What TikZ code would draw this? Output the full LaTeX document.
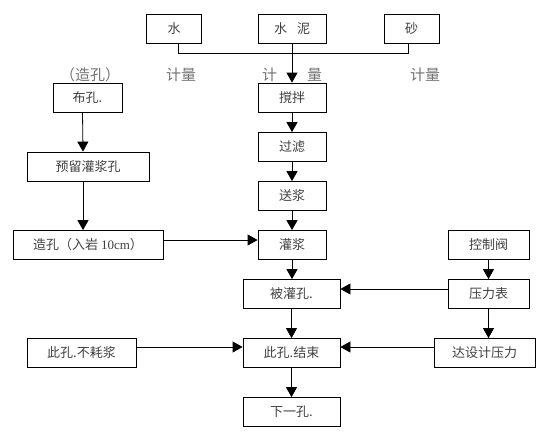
\documentclass[tikz,border=0pt]{standalone}
\usepackage{fontspec}
\setmainfont{Liberation Serif}
\newfontfamily\cjk{Noto Sans CJK SC}
\usetikzlibrary{
  arrows.meta, % for arrow tips
  positioning}
\tikzset{
  proc box/.style={
    shape=rectangle, draw, line width=.8pt, minimum height=29pt,
    inner sep=0pt, text=black!75,
    font=\cjk\fontsize{13}{13}\selectfont},
  meter label/.style={
    text=black!55, inner sep=0pt,
    font=\cjk\fontsize{15}{15}\selectfont},
  flow/.style={line width=.8pt, -{Triangle[length=10pt,width=11pt]}}
}

\begin{document}
\begin{tikzpicture}[x=1pt, y=-1pt, line width=.8pt]
\useasboundingbox (0,0) rectangle (554,432);

% materials
\node[proc box, minimum width=55pt] (water)  at (174,29)   {水};
\node[proc box, minimum width=68pt] (cement) at (292,29)   {水\hspace{10pt}泥};
\node[proc box, minimum width=55pt] (sand)   at (411.5,29) {砂};

\node[meter label] (water-m)  at (181,75)   {计量};
\node[meter label] (cement-m) at (292,75)   {计\hspace{30pt}量};
\node[meter label] (sand-m)   at (425,75)   {计量};
\node[meter label] (hole-m)   at (90,75)    {（造孔）};

% hole branch
\node[proc box, minimum width=69pt]  (lay)     at (87.5,97.5) {布孔.};
\node[proc box, minimum width=122pt] (reserve) at (88,166.5)  {预留灌浆孔};
\node[proc box, minimum width=150pt] (drill)   at (88,245)
  {造孔（入岩 {\rmfamily 10cm}）};

% main line
\node[proc box, minimum width=68pt] (mix)    at (292,97.5)  {撹拌};
\node[proc box, minimum width=68pt] (filter) at (292,147)   {过滤};
\node[proc box, minimum width=68pt] (pump)   at (292,196)   {送浆};
\node[proc box, minimum width=68pt] (grout)  at (292,245)   {灌浆};
\node[proc box, minimum width=97pt] (filled) at (291.5,294) {被灌孔.};
\node[proc box, minimum width=97pt] (done)   at (291.5,353) {此孔.结束};
\node[proc box, minimum width=97pt] (next)   at (291.5,412) {下一孔.};

% pressure branch
\node[proc box, minimum width=109pt] (no-take) at (81.5,353)  {此孔.不耗浆};
\node[proc box, minimum width=81pt]  (valve)   at (488.5,245) {控制阀};
\node[proc box, minimum width=81pt]  (gauge)   at (488.5,294) {压力表};
\node[proc box, minimum width=101pt] (reach)   at (484.5,353) {达设计压力};

\draw ([xshift=4pt]water.south) -- ++(0,9) -| ([xshift=-3pt]sand.south);
\draw[flow] (cement.south) -- (mix.north);

\draw[flow] ([xshift=-5pt]lay.south) -- ([xshift=-5pt]reserve.north);
\draw[flow] ([xshift=-5pt]reserve.south) -- ([xshift=-5pt]drill.north);
\draw[flow] ([yshift=5pt]drill.east) -- ([yshift=5pt]grout.west);

\draw[flow] (mix) -- (filter);
\draw[flow] (filter) -- (pump);
\draw[flow] (pump) -- (grout);
\draw[flow] (grout.south) -- (grout.south|-filled.north);
\draw[flow] (filled) -- (done);
\draw[flow] (done) -- (next);

\draw[flow] (valve) -- (gauge);
\draw[flow] (gauge) -- (gauge|-reach.north);
\draw[flow] ([yshift=5pt]gauge.west) -- ([yshift=5pt]filled.east);
\draw[flow] ([yshift=6pt]reach.west) -- ([yshift=6pt]done.east);
\draw[flow] ([yshift=6pt]no-take.east) -- ([yshift=6pt]done.west);
\end{tikzpicture}
\end{document}
